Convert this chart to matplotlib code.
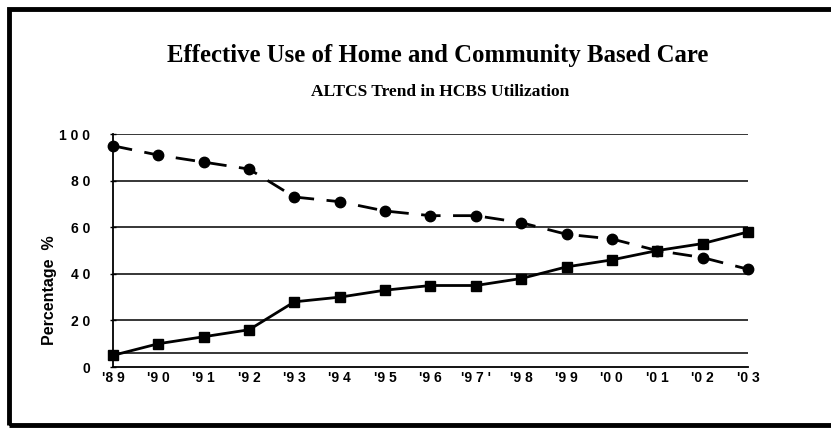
import matplotlib.pyplot as plt
from matplotlib.patches import Rectangle

years = ["'8 9", "'9 0", "'9 1", "'9 2", "'9 3", "'9 4", "'9 5", "'9 6",
         "'9 7 '", "'9 8", "'9 9", "'0 0", "'0 1", "'0 2", "'0 3"]
# dashed line with circles
institutional = [95, 91, 88, 85, 73, 71, 67, 65, 65, 62, 57, 55, 50, 47, 42]
# solid line with squares
hcbs = [5, 10, 13, 16, 28, 30, 33, 35, 35, 38, 43, 46, 50, 53, 58]
ytick_vals = [0, 20, 40, 60, 80, 100]
ytick_labels = ["0", "2 0", "4 0", "6 0", "8 0", "1 0 0"]

sans = ['Liberation Sans', 'DejaVu Sans']
serif = ['Liberation Serif', 'DejaVu Serif']

fig = plt.figure(figsize=(8.31, 4.30), dpi=100)
ax = fig.add_axes([0.136, 0.1465, 0.764, 0.5415])

x = list(range(len(years)))
ax.plot(x, hcbs, color='black', lw=2, marker='s', ms=7.5, clip_on=False, zorder=3)
ax.plot(x, institutional, color='black', lw=2, linestyle=(0, (7, 4.5)),
        marker='o', ms=7.5, clip_on=False, zorder=3)

for v in ytick_vals[1:]:
    ax.axhline(v, color='black', lw=1.1, zorder=1)
ax.axhline(6, color='black', lw=1.1, zorder=1)

ax.set_xlim(0, len(years) - 1)
ax.set_ylim(0, 100)
ax.set_yticks(ytick_vals)
ax.set_yticklabels(ytick_labels, fontfamily=sans, fontweight='bold', fontsize=10)
ax.set_xticks(x)
ax.set_xticklabels(years, fontfamily=sans, fontweight='bold', fontsize=10)
ax.tick_params(axis='y', length=5, width=1, direction='inout', pad=14)
ax.tick_params(axis='x', length=0, pad=3)
for s in ['top', 'right']:
    ax.spines[s].set_visible(False)
ax.spines['left'].set_linewidth(1.3)
ax.spines['bottom'].set_linewidth(1.3)
ax.set_ylabel('Percentage  %', fontfamily=sans, fontweight='bold', fontsize=11.5)
ax.yaxis.set_label_coords(-0.088, 0.33)

fig.text(0.527, 0.872, 'Effective Use of Home and Community Based Care',
         ha='center', va='center', fontfamily=serif, fontweight='bold', fontsize=17.8)
fig.text(0.53, 0.786, 'ALTCS Trend in HCBS Utilization',
         ha='center', va='center', fontfamily=serif, fontweight='bold', fontsize=12.5)

fig.patches.append(Rectangle((0.011, 0.012), 1.2, 0.968, transform=fig.transFigure,
                             fill=False, edgecolor='black', lw=3.5))

fig.savefig('out.png', dpi=100)
